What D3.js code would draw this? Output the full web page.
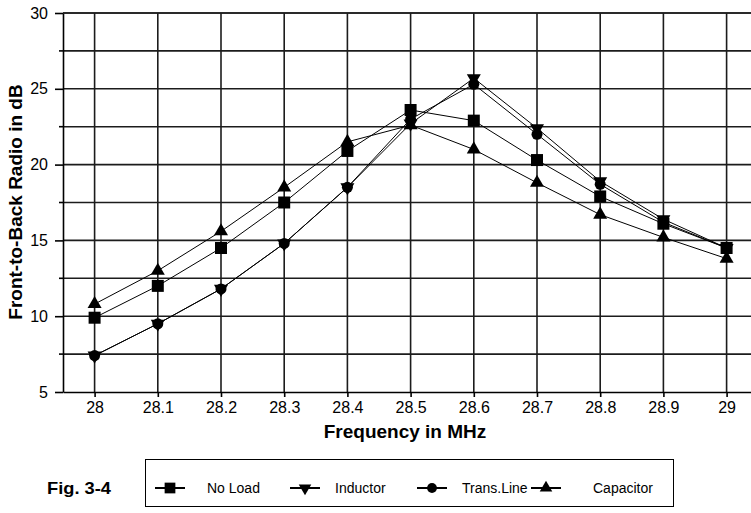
<!DOCTYPE html>
<html>
<head>
<meta charset="utf-8">
<script src="https://cdn.jsdelivr.net/npm/d3@7"></script>
<style>
  body { margin: 0; background: #fff; }
  svg { display: block; font-family: "Liberation Sans", Arial, sans-serif; }
</style>
</head>
<body>
<div id="chart"></div>
<script>
// Front-to-back ratio vs frequency, four loading cases

const frequencies = [28, 28.1, 28.2, 28.3, 28.4, 28.5, 28.6, 28.7, 28.8, 28.9, 29];
const xTickLabels = ['28', '28.1', '28.2', '28.3', '28.4', '28.5', '28.6', '28.7', '28.8', '28.9', '29'];
const yTickValues = [5, 10, 15, 20, 25, 30];

const noLoad = [9.9, 12.0, 14.5, 17.5, 20.9, 23.6, 22.9, 20.3, 17.9, 16.1, 14.5];
const inductor = [7.4, 9.5, 11.8, 14.8, 18.5, 22.7, 25.7, 22.4, 18.9, 16.4, 14.5];
const transLine = [7.4, 9.5, 11.8, 14.8, 18.5, 23.0, 25.3, 22.0, 18.7, 16.2, 14.5];
const capacitor = [10.8, 13.0, 15.6, 18.5, 21.5, 22.6, 21.0, 18.8, 16.7, 15.2, 13.8];

const seriesNames = ['No Load', 'Inductor', 'Trans.Line', 'Capacitor'];

const width = 751;
const height = 513;
const margin = {left: 63, top: 13, bottom: 392};

const series = [
  {name: seriesNames[0], values: noLoad, symbol: d3.symbolSquare, size: 144, rotate: 0},
  {name: seriesNames[1], values: inductor, symbol: d3.symbolTriangle, size: 85, rotate: 180},
  {name: seriesNames[2], values: transLine, symbol: d3.symbolCircle, size: 95, rotate: 0},
  {name: seriesNames[3], values: capacitor, symbol: d3.symbolTriangle, size: 85, rotate: 0}
];

const x = d3.scaleLinear().domain([27.95, 29.05]).range([margin.left, margin.left + 1.1 * 632]);
const y = d3.scaleLinear().domain([5, 30]).range([margin.bottom, margin.top]);

const svg = d3.select('#chart').append('svg')
  .attr('width', width)
  .attr('height', height);

// grid
const gridColor = '#1c1c1c';
const hLines = d3.range(7.5, 30.01, 2.5);
svg.append('g').selectAll('line.h')
  .data(hLines)
  .enter().append('line')
  .attr('x1', margin.left).attr('x2', width)
  .attr('y1', d => y(d)).attr('y2', d => y(d))
  .attr('stroke', gridColor).attr('stroke-width', 1.6);

svg.append('g').selectAll('line.v')
  .data(frequencies)
  .enter().append('line')
  .attr('x1', d => x(d)).attr('x2', d => x(d))
  .attr('y1', margin.top).attr('y2', margin.bottom)
  .attr('stroke', gridColor).attr('stroke-width', 1.6);

// x axis
const xAxis = d3.axisBottom(x)
  .tickValues(frequencies)
  .tickFormat((d, i) => xTickLabels[i])
  .tickSize(5)
  .tickSizeOuter(0);
const gx = svg.append('g')
  .attr('transform', `translate(0,${margin.bottom})`)
  .call(xAxis);
gx.select('.domain').attr('stroke', '#000').attr('stroke-width', 1.6);
gx.selectAll('.tick line').attr('stroke', '#000').attr('stroke-width', 1.6);
gx.selectAll('.tick text')
  .attr('font-size', 16).attr('font-family', '"Liberation Sans", Arial, sans-serif')
  .attr('fill', '#000').attr('dy', '0.85em').attr('y', 7);

// y axis, major ticks labelled, minor ticks in between
const yAxis = d3.axisLeft(y)
  .tickValues(yTickValues)
  .tickFormat(d3.format('d'))
  .tickSize(8)
  .tickSizeOuter(0);
const gy = svg.append('g')
  .attr('transform', `translate(${margin.left},0)`)
  .call(yAxis);
gy.select('.domain').attr('stroke', '#000').attr('stroke-width', 1.6);
gy.selectAll('.tick line').attr('stroke', '#000').attr('stroke-width', 1.6);
gy.selectAll('.tick text')
  .attr('font-size', 16).attr('font-family', '"Liberation Sans", Arial, sans-serif')
  .attr('fill', '#000').attr('x', -15);

svg.append('g').selectAll('line.minor')
  .data(d3.range(7.5, 30, 5))
  .enter().append('line')
  .attr('x1', margin.left - 4).attr('x2', margin.left)
  .attr('y1', d => y(d)).attr('y2', d => y(d))
  .attr('stroke', '#000').attr('stroke-width', 1.6);

// top border
svg.append('line')
  .attr('x1', margin.left).attr('x2', width)
  .attr('y1', margin.top).attr('y2', margin.top)
  .attr('stroke', gridColor).attr('stroke-width', 1.6);

// series
const line = d3.line()
  .x((d, i) => x(frequencies[i]))
  .y(d => y(d));

series.forEach(s => {
  svg.append('path')
    .datum(s.values)
    .attr('d', line)
    .attr('fill', 'none')
    .attr('stroke', '#000')
    .attr('stroke-width', 1);
});

series.forEach(s => {
  const sym = d3.symbol().type(s.symbol).size(s.size);
  svg.append('g').selectAll('path')
    .data(s.values)
    .enter().append('path')
    .attr('d', sym)
    .attr('transform', (d, i) => `translate(${x(frequencies[i])},${y(d)}) rotate(${s.rotate})`)
    .attr('fill', '#000');
});

// axis titles
svg.append('text')
  .attr('x', 405).attr('y', 438)
  .attr('text-anchor', 'middle')
  .attr('font-size', 19).attr('font-weight', 'bold')
  .text('Frequency in MHz');

svg.append('text')
  .attr('transform', 'translate(22,202) rotate(-90)')
  .attr('text-anchor', 'middle')
  .attr('font-size', 19).attr('font-weight', 'bold')
  .text('Front-to-Back Radio in dB');

// figure label
svg.append('text')
  .attr('x', 47).attr('y', 494)
  .attr('font-size', 17).attr('font-weight', 'bold')
  .attr('textLength', 64).attr('lengthAdjust', 'spacingAndGlyphs')
  .text('Fig. 3-4');

// legend
const legend = svg.append('g');
legend.append('rect')
  .attr('x', 145.5).attr('y', 459.5)
  .attr('width', 528).attr('height', 47)
  .attr('fill', 'none').attr('stroke', '#000').attr('stroke-width', 1);

const legendX = [170, 305, 432, 546];
const legendTextX = [207, 335, 462, 593];
const legendY = 488;

series.forEach((s, i) => {
  const sym = d3.symbol().type(s.symbol).size(s.size * 0.8);
  legend.append('line')
    .attr('x1', legendX[i] - 15).attr('x2', legendX[i] + 15)
    .attr('y1', legendY).attr('y2', legendY)
    .attr('stroke', '#000').attr('stroke-width', 2);
  legend.append('path')
    .attr('d', sym)
    .attr('transform', `translate(${legendX[i]},${legendY}) rotate(${s.rotate})`)
    .attr('fill', '#000');
  legend.append('text')
    .attr('x', legendTextX[i]).attr('y', legendY + 5)
    .attr('font-size', 14)
    .text(s.name);
});
</script>
</body>
</html>
